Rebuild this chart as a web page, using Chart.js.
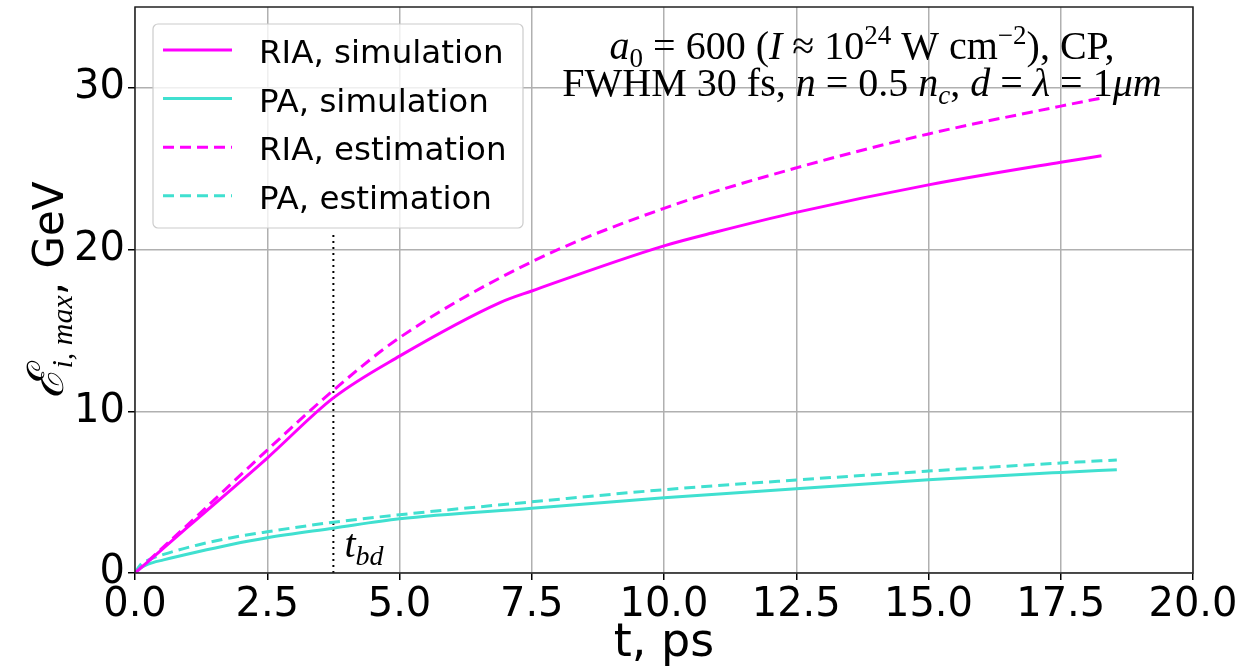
<!DOCTYPE html>
<html lang="en">
<head>
    <meta charset="UTF-8">
    <title>Max ion energy vs time</title>
    <script src="https://cdn.jsdelivr.net/npm/chart.js@4.4.1/dist/chart.umd.min.js"></script>
    <style>
        * { margin: 0; padding: 0; box-sizing: border-box; }
        body { background: #fff; width: 1243px; height: 672px; overflow: hidden; }
        #chart { display: block; }
    </style>
</head>
<body>
    <canvas id="chart" width="1243" height="672"></canvas>

    <script>
        // Data (t in ps, energy in GeV)
        const riaSimT = [0, 1, 2.5, 3.75, 5, 6.9, 7.5, 10, 11, 12.5, 15, 17.5, 18.27];
        const riaSimE = [0, 2.85, 7.11, 10.83, 13.41, 16.72, 17.44, 20.23, 21.1, 22.3, 24.0, 25.4, 25.8];

        const paSimT = [0, 0.1, 0.25, 0.54, 1.17, 1.8, 2.5, 3.75, 5, 7.5, 10, 12.5, 15, 17.5, 18.56];
        const paSimE = [0, 0.3, 0.55, 0.81, 1.3, 1.75, 2.18, 2.77, 3.35, 4.0, 4.65, 5.21, 5.77, 6.22, 6.39];

        const riaEstT = [0, 1, 2.5, 3.75, 5, 7.5, 10, 12.5, 15, 17.5, 18.27];
        const riaEstE = [0, 3.0, 7.6, 11.3, 14.55, 19.24, 22.55, 25.05, 27.15, 28.87, 29.37];

        const paEstT = [0, 0.1, 0.25, 0.54, 1.17, 1.8, 2.5, 3.75, 5, 7.5, 10, 12.5, 15, 17.5, 18.56];
        const paEstE = [0, 0.5, 0.8, 1.15, 1.72, 2.17, 2.55, 3.14, 3.6, 4.4, 5.15, 5.75, 6.3, 6.8, 6.99];

        // breakdown time marker
        const tbdT = [3.75, 3.75];
        const tbdE = [0, 21.1];

        const xTicks = [0, 2.5, 5, 7.5, 10, 12.5, 15, 17.5, 20];
        const yTicks = [0, 10, 20, 30];

        const MAGENTA = '#ff00ff';
        const TURQ = '#40e0d0';

        function pts(xs, ys) {
            return xs.map((x, i) => ({ x: x, y: ys[i] }));
        }

        function series(label, xs, ys, color, dash) {
            return {
                label: label,
                data: pts(xs, ys),
                borderColor: color,
                backgroundColor: color,
                borderWidth: 3,
                borderDash: dash,
                pointRadius: 0,
                fill: false,
                cubicInterpolationMode: 'monotone'
            };
        }

        // draw a line of mixed-style text: parts = [{t, f, dy}]
        function drawRich(ctx, parts, x, y, align) {
            let w = 0;
            parts.forEach(p => { ctx.font = p.f; p.w = ctx.measureText(p.t).width; w += p.w; });
            let cx = align === 'center' ? x - w / 2 : x;
            ctx.textAlign = 'left';
            ctx.textBaseline = 'alphabetic';
            parts.forEach(p => {
                ctx.font = p.f;
                ctx.fillText(p.t, cx, y + (p.dy || 0));
                cx += p.w;
            });
        }

        const SERIF = '"Liberation Serif", "DejaVu Serif", serif';
        const R = '40px ' + SERIF;
        const I = 'italic 40px ' + SERIF;
        const S = '27px ' + SERIF;
        const SI = 'italic 27px ' + SERIF;

        const decorations = {
            id: 'decorations',
            afterDatasetsDraw(chart) {
                const ctx = chart.ctx;
                const a = chart.chartArea;
                const xs = chart.scales.x;
                const ys = chart.scales.y;
                ctx.save();

                // frame
                ctx.strokeStyle = '#222';
                ctx.lineWidth = 1.5;
                ctx.strokeRect(a.left, a.top, a.right - a.left, a.bottom - a.top);

                // legend
                const lx = 153, ly = 24, lw = 370, lh = 204;
                ctx.beginPath();
                ctx.roundRect(lx, ly, lw, lh, 5);
                ctx.fillStyle = 'rgba(255,255,255,0.8)';
                ctx.fill();
                ctx.strokeStyle = '#cccccc';
                ctx.lineWidth = 1.2;
                ctx.stroke();
                const items = chart.data.datasets.filter(d => d.label);
                items.forEach((d, i) => {
                    const yy = 50 + i * 48.6;
                    ctx.beginPath();
                    ctx.strokeStyle = d.borderColor;
                    ctx.lineWidth = 3;
                    ctx.setLineDash(d.borderDash || []);
                    ctx.moveTo(163, yy);
                    ctx.lineTo(232, yy);
                    ctx.stroke();
                    ctx.setLineDash([]);
                    ctx.fillStyle = '#000';
                    ctx.font = '32.5px "DejaVu Sans", sans-serif';
                    ctx.textAlign = 'left';
                    ctx.textBaseline = 'alphabetic';
                    ctx.fillText(d.label, 259, yy + 13);
                });

                // parameters annotation
                ctx.fillStyle = '#000';
                drawRich(ctx, [
                    { t: 'a', f: I }, { t: '0', f: S, dy: 8 },
                    { t: ' = 600 (', f: R }, { t: 'I', f: I },
                    { t: ' ≈ 10', f: R }, { t: '24', f: S, dy: -15 },
                    { t: ' W cm', f: R }, { t: '−2', f: S, dy: -15 },
                    { t: '), CP,', f: R }
                ], 862, 59, 'center');
                drawRich(ctx, [
                    { t: 'FWHM 30 fs, ', f: R }, { t: 'n', f: I },
                    { t: ' = 0.5 ', f: R }, { t: 'n', f: I }, { t: 'c', f: SI, dy: 8 },
                    { t: ', ', f: R }, { t: 'd', f: I }, { t: ' = ', f: R },
                    { t: 'λ', f: I }, { t: ' = 1', f: R }, { t: 'μm', f: I }
                ], 862, 96, 'center');

                // t_bd label
                const px = xs.getPixelForValue(tbdT[0]);
                drawRich(ctx, [
                    { t: 't', f: 'italic 40px ' + SERIF },
                    { t: 'bd', f: 'italic 28px ' + SERIF, dy: 8 }
                ], px + 11, ys.getPixelForValue(0) - 16, 'left');

                // y axis title, rotated
                ctx.translate(63, 290);
                ctx.rotate(-Math.PI / 2);
                drawRich(ctx, [
                    { t: 'ℰ', f: 'italic 50px ' + SERIF },
                    { t: 'i, max', f: 'italic 30px ' + SERIF, dy: 9 },
                    { t: ', GeV', f: '42px "DejaVu Sans", sans-serif' }
                ], 0, 0, 'center');

                ctx.restore();
            }
        };

        const ctx = document.getElementById('chart').getContext('2d');
        new Chart(ctx, {
            type: 'line',
            data: {
                datasets: [
                    series('RIA, simulation', riaSimT, riaSimE, MAGENTA, []),
                    series('PA, simulation', paSimT, paSimE, TURQ, []),
                    series('RIA, estimation', riaEstT, riaEstE, MAGENTA, [11, 6]),
                    series('PA, estimation', paEstT, paEstE, TURQ, [11, 6]),
                    {
                        label: '',
                        data: pts(tbdT, tbdE),
                        borderColor: '#000',
                        borderWidth: 2,
                        borderDash: [2, 4],
                        pointRadius: 0,
                        clip: false
                    }
                ]
            },
            options: {
                responsive: false,
                animation: false,
                layout: { padding: { top: 7, right: 50, left: 0, bottom: 0 } },
                plugins: {
                    legend: { display: false },
                    tooltip: { enabled: false }
                },
                scales: {
                    x: {
                        type: 'linear',
                        min: 0,
                        max: 20,
                        afterFit: s => { s.height = 99; s.paddingLeft = 0; s.paddingRight = 0; },
                        afterBuildTicks: s => { s.ticks = xTicks.map(v => ({ value: v })); },
                        ticks: {
                            color: '#000',
                            font: { family: '"DejaVu Sans", sans-serif', size: 40 },
                            padding: 2,
                            maxRotation: 0,
                            autoSkip: false,
                            callback: v => v.toFixed(1)
                        },
                        grid: { color: '#b0b0b0', lineWidth: 1.5, tickColor: '#000', tickLength: 7, tickWidth: 1.5 },
                        border: { display: false },
                        title: {
                            display: true,
                            text: 't, ps',
                            color: '#000',
                            font: { family: '"DejaVu Sans", sans-serif', size: 46 },
                            padding: { top: 0, bottom: 0 }
                        }
                    },
                    y: {
                        min: 0,
                        max: 35,
                        afterFit: s => { s.width = 135; s.paddingTop = 0; s.paddingBottom = 0; },
                        afterBuildTicks: s => { s.ticks = yTicks.map(v => ({ value: v })); },
                        ticks: {
                            color: '#000',
                            font: { family: '"DejaVu Sans", sans-serif', size: 40 },
                            padding: 3
                        },
                        grid: { color: '#b0b0b0', lineWidth: 1.5, tickColor: '#000', tickLength: 7, tickWidth: 1.5 },
                        border: { display: false }
                    }
                }
            },
            plugins: [decorations]
        });
    </script>
</body>
</html>
